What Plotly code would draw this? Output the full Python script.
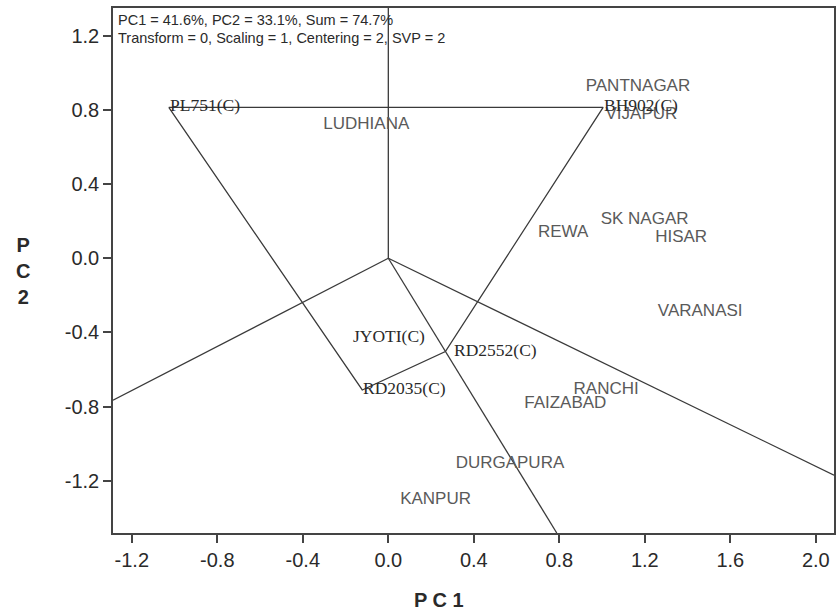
import plotly.graph_objects as go

# GGE biplot (which-won-where view): genotype and environment scores on PC1/PC2
genotypes = ["PL751(C)", "BH902(C)", "RD2552(C)", "RD2035(C)", "JYOTI(C)"]
gen_pc1 = [-1.027, 1.005, 0.267, -0.122, -0.168]
gen_pc2 = [0.813, 0.813, -0.503, -0.710, -0.430]
hull_order = [0, 1, 2, 3]  # vertex genotypes forming the polygon

environments = ["PANTNAGAR", "VIJAPUR", "LUDHIANA", "REWA", "SK NAGAR", "HISAR",
                "VARANASI", "RANCHI", "FAIZABAD", "DURGAPURA", "KANPUR"]
env_pc1 = [1.168, 1.184, -0.103, 0.818, 1.199, 1.370, 1.459, 1.019, 0.828, 0.569, 0.221]
env_pc2 = [0.923, 0.772, 0.719, 0.138, 0.210, 0.111, -0.286, -0.710, -0.785, -1.109, -1.303]

x_range = [-1.288, 2.085]
y_range = [-1.481, 1.349]
x_ticks = [-1.2, -0.8, -0.4, 0.0, 0.4, 0.8, 1.2, 1.6, 2.0]
y_ticks = [-1.2, -0.8, -0.4, 0.0, 0.4, 0.8, 1.2]

header = ["PC1 = 41.6%, PC2 = 33.1%, Sum = 74.7%",
          "Transform = 0, Scaling = 1, Centering = 2, SVP = 2"]

LINE = "#3a3a3a"
fig = go.Figure()

# polygon joining the vertex genotypes
px = [gen_pc1[i] for i in hull_order] + [gen_pc1[hull_order[0]]]
py = [gen_pc2[i] for i in hull_order] + [gen_pc2[hull_order[0]]]
fig.add_trace(go.Scatter(x=px, y=py, mode="lines", line=dict(color=LINE, width=1.3),
                         hoverinfo="skip", showlegend=False))


def ray_end(nx, ny):
    """Point where a ray from the origin along (nx, ny) leaves the plot box."""
    ts = []
    if nx > 0:
        ts.append(x_range[1] / nx)
    elif nx < 0:
        ts.append(x_range[0] / nx)
    if ny > 0:
        ts.append(y_range[1] / ny)
    elif ny < 0:
        ts.append(y_range[0] / ny)
    t = min(ts)
    return nx * t, ny * t


# rays from the origin perpendicular to each side of the polygon
n = len(hull_order)
for k in range(n):
    a = hull_order[k]
    b = hull_order[(k + 1) % n]
    ax_, ay_ = gen_pc1[a], gen_pc2[a]
    dx, dy = gen_pc1[b] - ax_, gen_pc2[b] - ay_
    nx, ny = dy, -dx
    if nx * ax_ + ny * ay_ < 0:
        nx, ny = -nx, -ny
    ex, ey = ray_end(nx, ny)
    fig.add_trace(go.Scatter(x=[0, ex], y=[0, ey], mode="lines",
                             line=dict(color=LINE, width=1.3),
                             hoverinfo="skip", showlegend=False))

# environment labels
fig.add_trace(go.Scatter(x=env_pc1, y=env_pc2, mode="text", text=environments,
                         textposition="middle center",
                         textfont=dict(family="Liberation Sans", size=17, color="#5a5a5a"),
                         hoverinfo="skip", showlegend=False))

# genotype labels, starting at each genotype's position
for name, gx, gy in zip(genotypes, gen_pc1, gen_pc2):
    fig.add_annotation(x=gx, y=gy, text=name, showarrow=False, xanchor="left",
                       yanchor="middle", xshift=7 if name == "RD2552(C)" else -1,
                       yshift=2,
                       font=dict(family="Liberation Serif", size=17.5, color="#2a2a2a"))

# header lines inside the frame
for i, line in enumerate(header):
    fig.add_annotation(xref="paper", yref="paper", x=0.004, y=1 - 0.003 - i * 0.036,
                       xanchor="left", yanchor="top", text=line, showarrow=False,
                       font=dict(family="Liberation Sans", size=14.5, color="#2a2a2a"))

# axis titles: stacked letters for PC2, spaced letters for PC1
fig.add_annotation(xref="paper", yref="paper", x=-0.125, y=0.5, xanchor="center",
                   yanchor="middle", text="<b>P<br>C<br>2</b>", showarrow=False,
                   font=dict(family="Liberation Sans", size=20, color="#2a2a2a"),
                   align="center")
fig.add_annotation(xref="paper", yref="paper", x=0.452, y=-0.128, xanchor="center",
                   yanchor="middle", text="<b>P C 1</b>", showarrow=False,
                   font=dict(family="Liberation Sans", size=20, color="#2a2a2a"))


def fmt(v):
    return f"{v:.1f}".replace("\u2212", "-")


axis_common = dict(showgrid=False, zeroline=False, showline=True, mirror=True,
                   linecolor="#444444", linewidth=1.5, ticks="outside", ticklen=8,
                   tickwidth=1.5, tickcolor="#444444",
                   tickfont=dict(family="Liberation Sans", size=20, color="#2a2a2a"))

fig.update_xaxes(range=x_range, tickvals=x_ticks, ticktext=[fmt(v) for v in x_ticks],
                 **axis_common)
fig.update_yaxes(range=y_range, tickvals=y_ticks, ticktext=[fmt(v) for v in y_ticks],
                 **axis_common)
fig.update_layout(
    width=836, height=615,
    margin=dict(l=113, r=0, t=8, b=82),
    paper_bgcolor="white", plot_bgcolor="white",
    font=dict(family="Liberation Sans"),
)

fig.write_html("out.html")
